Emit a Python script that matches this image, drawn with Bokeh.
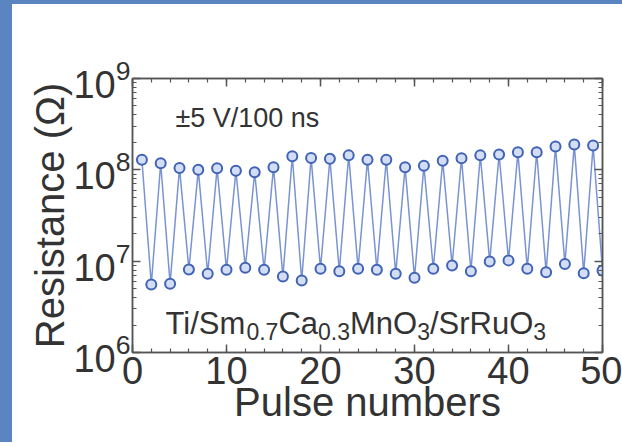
from bokeh.plotting import figure
from bokeh.models import (Range1d, SingleIntervalTicker, FixedTicker, LinearAxis,
                          LogAxis, CustomJSTickFormatter)
from bokeh.core.properties import value
from bokeh.embed import file_html
from bokeh.resources import INLINE

# ---------------- data ----------------
pulses = list(range(1, 51))
resistance = [
    1.29e8, 5.55e6, 1.18e8, 5.65e6, 1.05e8, 8.10e6, 1.00e8, 7.27e6, 1.04e8, 8.04e6,
    0.98e8, 8.46e6, 0.94e8, 8.04e6, 1.07e8, 6.80e6, 1.41e8, 6.14e6, 1.35e8, 8.25e6,
    1.32e8, 7.77e6, 1.44e8, 8.25e6, 1.29e8, 8.04e6, 1.29e8, 7.27e6, 1.07e8, 6.58e6,
    1.11e8, 8.25e6, 1.26e8, 8.97e6, 1.34e8, 7.77e6, 1.44e8, 9.90e6, 1.47e8, 1.02e7,
    1.56e8, 8.25e6, 1.56e8, 7.57e6, 1.80e8, 9.33e6, 1.89e8, 7.38e6, 1.85e8, 7.90e6,
]
x_tick_interval = 10
y_decades = [1e6, 1e7, 1e8, 1e9]
x_label = "Pulse numbers"
y_label = "Resistance (\u03a9)"
pulse_text = "\u00b15 V/100 ns"
# (text, is_subscript)
sample_parts = [("Ti/Sm", False), ("0.7", True), ("Ca", False), ("0.3", True),
                ("MnO", False), ("3", True), ("/SrRuO", False), ("3", True)]

# ---------------- style ----------------
FONT = "Liberation Sans"
TXT = "#333333"
FRAME = "#555555"
MARK = "#4063b6"
LINE = "#7a93d2"
BAND = "#5a85c1"

p = figure(width=610, height=442, y_axis_type="log",
           x_range=Range1d(0, 50), y_range=Range1d(1e6, 1e9),
           output_backend="svg", toolbar_location=None,
           min_border_left=120, min_border_right=20,
           min_border_top=74, min_border_bottom=94)
p.styles = {
    "margin-left": "12px",
    "margin-top": "4px",
    "box-shadow": f"-6px -448px 0 6px {BAND}, -612px -6px 0 2px {BAND}",
}
p.background_fill_color = "white"
p.border_fill_color = "white"
p.outline_line_color = FRAME
p.outline_line_width = 1.5
p.xgrid.visible = False
p.ygrid.visible = False

bottom = p.xaxis[0]
left = p.yaxis[0]

minor_y = [m * d for d in y_decades[:-1] for m in range(2, 10)]
xt = SingleIntervalTicker(interval=x_tick_interval, num_minor_ticks=5)
yt = FixedTicker(ticks=y_decades, minor_ticks=minor_y)
bottom.ticker = xt
left.ticker = yt

blank = CustomJSTickFormatter(code="return '';")
top = LinearAxis(ticker=xt, formatter=blank)
right = LogAxis(ticker=yt, formatter=blank)
p.add_layout(top, "above")
p.add_layout(right, "right")

for ax in [bottom, left, top, right]:
    ax.major_tick_in = 8
    ax.major_tick_out = 0
    ax.minor_tick_in = 4
    ax.minor_tick_out = 0
    ax.axis_line_color = FRAME
    ax.axis_line_width = 1.5
    ax.major_tick_line_color = FRAME
    ax.major_tick_line_width = 1.5
    ax.minor_tick_line_color = FRAME
    ax.minor_tick_line_width = 1.2
    ax.major_label_text_font = FONT
    ax.major_label_text_color = TXT
    ax.major_label_text_font_size = "38px"
    ax.axis_label_text_font = FONT
    ax.axis_label_text_font_style = "normal"
    ax.axis_label_text_color = TXT
    ax.axis_label_text_font_size = "40px"

for ax in [top, right]:
    ax.major_label_standoff = 0

bottom.axis_label = x_label
bottom.major_label_standoff = 4
bottom.axis_label_standoff = -7
left.axis_label = y_label
left.major_label_standoff = 2
left.axis_label_standoff = -2

# ---------------- data marks ----------------
p.line(pulses, resistance, line_color=LINE, line_width=1.5)
p.scatter(pulses, resistance, size=10, marker="circle",
          line_color=MARK, line_width=2, fill_color="#d3ddf3")

# ---------------- annotations ----------------
p.text(x=[4.57], y=[3.65e8], text=[pulse_text], text_font=value(FONT),
       text_font_size="27px", text_color=TXT, text_baseline="alphabetic",
       text_align="left")

ARIAL = {'T': 611, 'i': 222, '/': 278, 'S': 667, 'm': 833, '0': 556, '.': 278,
         '7': 556, 'C': 722, 'a': 556, '3': 556, 'M': 833, 'n': 556, 'O': 778,
         'r': 333, 'R': 722, 'u': 556}
BASE = 31
SUB = 23
off = 0.0
for seg, sub in sample_parts:
    fs = SUB if sub else BASE
    p.text(x=[3.51], y=[2.08e6], text=[seg], x_offset=off,
           y_offset=(8 if sub else 0), text_font=value(FONT),
           text_font_size=f"{fs}px", text_color=TXT,
           text_baseline="alphabetic", text_align="left")
    off += sum(ARIAL[c] for c in seg) / 1000.0 * fs

open("out.html", "w").write(file_html(p, INLINE))
